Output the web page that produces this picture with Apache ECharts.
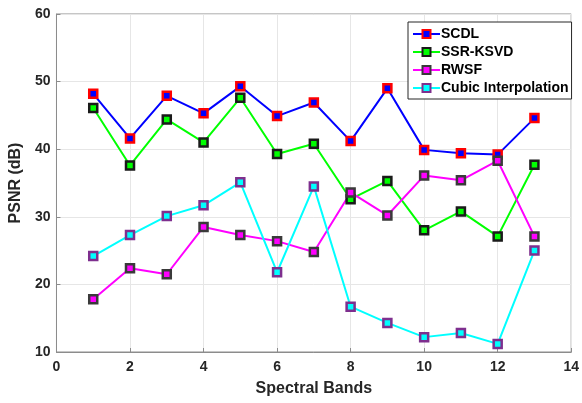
<!DOCTYPE html>
<html>
<head>
<meta charset="utf-8">
<script src="https://cdn.jsdelivr.net/npm/echarts@6/dist/echarts.min.js"></script>
<style>
  html, body { margin: 0; padding: 0; background: #fff; }
  #chart { width: 582px; height: 403px; }
</style>
</head>
<body>
<div id="chart"></div>
<script>
var bands = [1, 2, 3, 4, 5, 6, 7, 8, 9, 10, 11, 12, 13]
var scdl = [48.2, 41.6, 47.9, 45.3, 49.3, 44.9, 46.9, 41.2, 49.0, 39.9, 39.4, 39.2, 44.6]
var ssrKsvd = [46.1, 37.6, 44.4, 41.0, 47.6, 39.3, 40.8, 32.6, 35.3, 28.0, 30.8, 27.1, 37.7]
var rwsf = [17.8, 22.4, 21.5, 28.5, 27.3, 26.4, 24.8, 33.6, 30.2, 36.1, 35.4, 38.3, 27.1]
var cubic = [24.2, 27.3, 30.1, 31.7, 35.1, 21.8, 34.5, 16.7, 14.3, 12.2, 12.8, 11.2, 25.0]
var xTicks = [0, 2, 4, 6, 8, 10, 12, 14]
var yTicks = [10, 20, 30, 40, 50, 60]

var font = 'Liberation Sans, Arial, sans-serif'

function pairs (vals) {
  return bands.map(function (b, i) { return [b, vals[i]] })
}

function mkSeries (name, vals, lineColor, fill, border) {
  return {
    name: name,
    type: 'line',
    data: pairs(vals),
    symbol: 'rect',
    symbolSize: 8,
    lineStyle: { color: lineColor, width: 2 },
    itemStyle: { color: fill, borderColor: border, borderWidth: 2.5 },
    emphasis: { disabled: true },
    animation: false
  }
}

var chart = echarts.init(document.getElementById('chart'))
chart.setOption({
  animation: false,
  grid: {
    left: 55, right: 7, top: 14, bottom: 51,
    show: true, borderColor: '#8c8c8c', borderWidth: 1
  },
  legend: {
    orient: 'vertical',
    left: 408, top: 22,
    padding: [5, 3, 4, 4],
    itemWidth: 27, itemHeight: 10, itemGap: 4,
    backgroundColor: '#fff',
    borderColor: '#262626', borderWidth: 1,
    textStyle: { fontFamily: font, fontSize: 14, fontWeight: 'bold', color: '#000', padding: [0, 0, 0, -4] },
    data: ['SCDL', 'SSR-KSVD', 'RWSF', 'Cubic Interpolation']
  },
  xAxis: {
    type: 'value', min: 0, max: 14, interval: 2,
    name: 'Spectral Bands', nameLocation: 'middle', nameGap: 29,
    nameTextStyle: { fontFamily: font, fontSize: 16, fontWeight: 'bold', color: '#262626' },
    axisLine: { lineStyle: { color: '#8c8c8c' } },
    axisTick: { inside: true, length: 4, lineStyle: { color: '#8c8c8c' } },
    axisLabel: {
      fontFamily: font, fontSize: 14, fontWeight: 'bold', color: '#262626', margin: 8,
      formatter: function (v) { return xTicks.indexOf(v) >= 0 ? String(v) : '' }
    },
    splitLine: { show: true, lineStyle: { color: '#e6e6e6' } }
  },
  yAxis: {
    type: 'value', min: 10, max: 60, interval: 10,
    name: 'PSNR (dB)', nameLocation: 'middle', nameGap: 30,
    nameTextStyle: { fontFamily: font, fontSize: 16, fontWeight: 'bold', color: '#262626' },
    axisLine: { show: true, lineStyle: { color: '#8c8c8c' } },
    axisTick: { show: true, inside: true, length: 4, lineStyle: { color: '#8c8c8c' } },
    axisLabel: {
      fontFamily: font, fontSize: 14, fontWeight: 'bold', color: '#262626', margin: 6,
      formatter: function (v) { return yTicks.indexOf(v) >= 0 ? String(v) : '' }
    },
    splitLine: { show: true, lineStyle: { color: '#e6e6e6' } }
  },
  series: [
    mkSeries('SCDL', scdl, '#0000ff', '#0000ff', '#ff0000'),
    mkSeries('SSR-KSVD', ssrKsvd, '#00ff00', '#00ff00', '#1a1a1a'),
    mkSeries('RWSF', rwsf, '#ff00ff', '#ff00ff', '#3a3a3a'),
    mkSeries('Cubic Interpolation', cubic, '#00ffff', '#00ffff', '#7e2f8e')
  ]
})
</script>
</body>
</html>
